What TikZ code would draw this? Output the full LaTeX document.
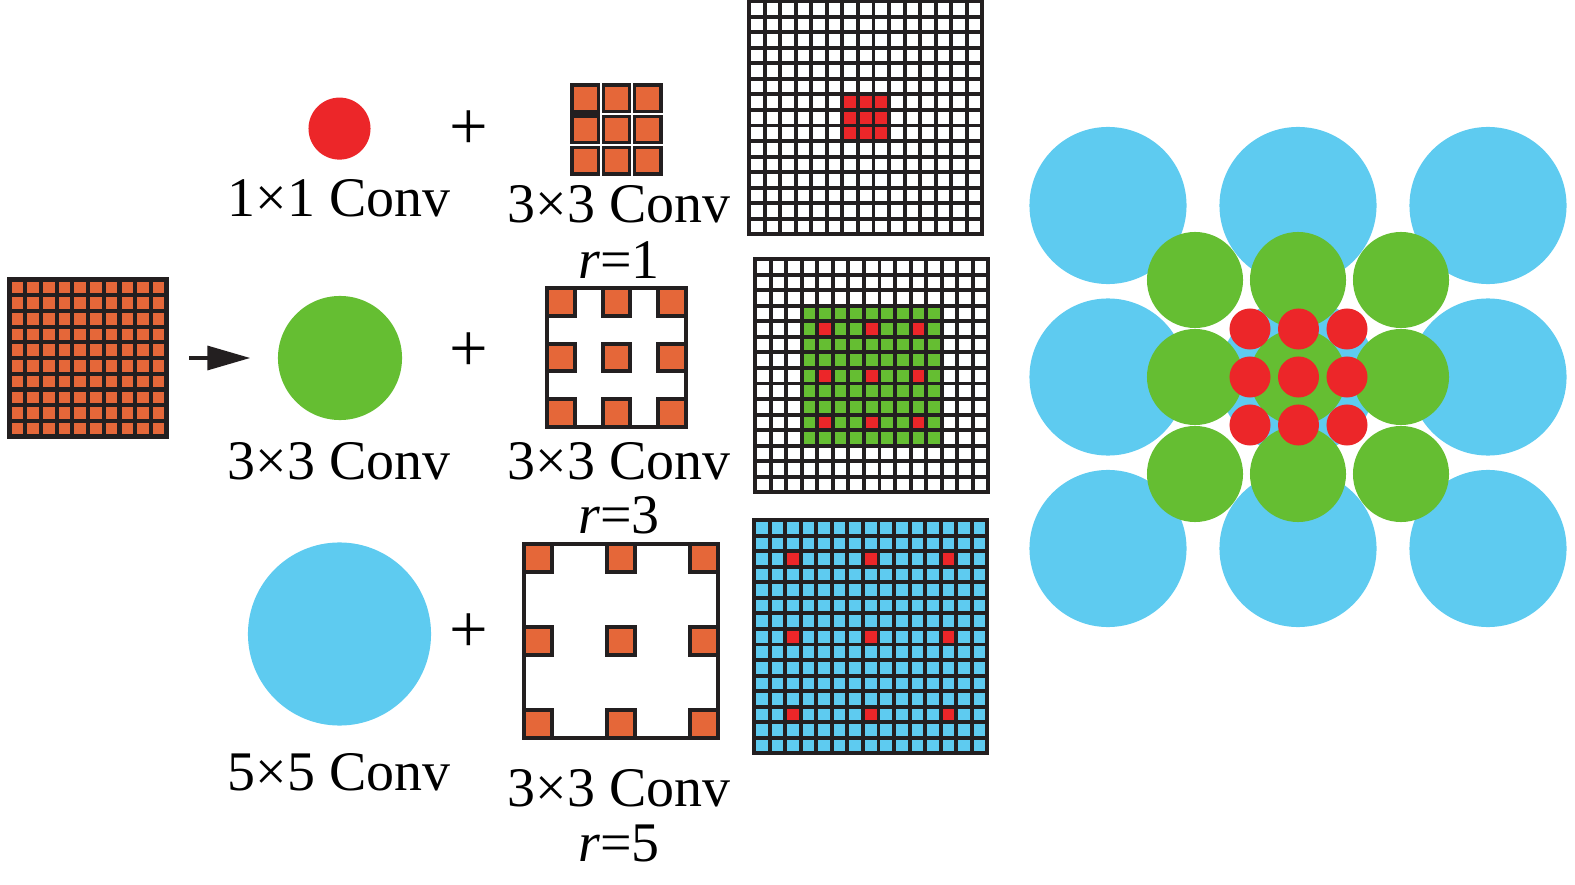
\documentclass[tikz,border=0pt]{standalone}
\usepackage{fontspec}
\setmainfont{Liberation Serif}
\usetikzlibrary{arrows.meta,positioning}
\definecolor{KernOrange}{RGB}{229,103,57}
\definecolor{HitRed}{RGB}{236,38,41}
\definecolor{FieldGreen}{RGB}{101,190,50}
\definecolor{FieldBlue}{RGB}{94,203,240}
\definecolor{LineDark}{RGB}{35,31,32}

\begin{document}
\begin{tikzpicture}[
    x=0.01cm, y=-0.01cm,
    lbl/.style={font=\fontsize{15.9}{19}\selectfont, anchor=base, inner sep=0pt},
    plussign/.style={font=\fontsize{19.5}{23}\selectfont, inner sep=0pt},
    disc/.style={circle, inner sep=0pt, draw=none},
    gridline/.style={draw=LineDark, line width=1.12pt},
    kernline/.style={draw=LineDark, line width=1.15pt},
    flow/.style={draw=LineDark, line width=1pt, -{Triangle[length=12.2pt, width=6.8pt]}},
  ]
  \useasboundingbox (0,0) rectangle (1575,885);

  % input feature map
  \begin{scope}[shift={(9.5,279.5)}, x=0.157cm, y=-0.157cm]
    \fill[KernOrange] (0,0) rectangle (10,10);
    \foreach \k in {1,...,9} {
      \draw[gridline, line width=1.2pt] (\k,0) -- (\k,10);
      \draw[gridline, line width=1.2pt] (0,\k) -- (10,\k);
    }
    \draw[gridline, line width=1.2pt] (0,0) rectangle (10,10);
  \end{scope}
  \node[inner sep=0pt, minimum size=1.57cm] (inp) at (88,358) {};

  % kernels (left column)
  \node[disc, fill=HitRed, minimum size=0.62cm] (c1) at (339.5,128.6) {};
  \node[disc, fill=FieldGreen, minimum size=1.24cm] (c3) at (340,358) {};
  \node[disc, fill=FieldBlue, minimum size=1.83cm] (c5) at (339.5,634) {};
  \node[lbl] (c1lbl) at (339,217) {1×1 Conv};
  \node[lbl] (c3lbl) at (339,479) {3×3 Conv};
  \node[lbl] (c5lbl) at (339,790) {5×5 Conv};

  \draw[flow] ([xshift=0.22cm]inp.east) -- ([xshift=-0.27cm]c3.west);

  \node[plussign] (p1) at (469,130) {+};
  \node[plussign] (p3) at (469,352) {+};
  \node[plussign] (p5) at (469,633) {+};

  % dilated 3x3, r=1
  \begin{scope}[shift={(570,83)}, x=0.31cm, y=-0.31cm]
    \fill[LineDark] (0,0) rectangle (3,3);
    \foreach \i in {0,1,2}
      \foreach \j in {0,1,2}
        \fill[KernOrange] (\i+0.12,\j+0.12) rectangle (\i+0.88,\j+0.88);
    \draw[white, line width=0.45pt] (1,0) -- (1,3) (2,0) -- (2,3)
      (1,1) -- (3,1) (0,2) -- (3,2);
  \end{scope}
  \node[lbl] (k1lbl) at (619,223) {3×3 Conv};
  \node[lbl] (k1r) at (619,278) {\textit{r}=1};

  % dilated 3x3, r=3
  \begin{scope}[shift={(547,288)}, x=0.278cm, y=-0.278cm]
    \fill[white] (0,0) rectangle (5,5);
    \foreach \i in {0,2,4}
      \foreach \j in {0,2,4}
        \filldraw[kernline, fill=KernOrange] (\i,\j) rectangle ++(1,1);
    \draw[kernline] (0,0) rectangle (5,5);
  \end{scope}
  \node[lbl] (k3lbl) at (619,479) {3×3 Conv};
  \node[lbl] (k3r) at (619,533) {\textit{r}=3};

  % dilated 3x3, r=5
  \begin{scope}[shift={(524,544)}, x=0.277cm, y=-0.277cm]
    \fill[white] (0,0) rectangle (7,7);
    \foreach \i in {0,3,6}
      \foreach \j in {0,3,6}
        \filldraw[kernline, fill=KernOrange] (\i,\j) rectangle ++(1,1);
    \draw[kernline] (0,0) rectangle (7,7);
  \end{scope}
  \node[lbl] (k5lbl) at (619,806) {3×3 Conv};
  \node[lbl] (k5r) at (619,861) {\textit{r}=5};

  % receptive fields
  \begin{scope}[shift={(749,1)}, x=0.1555cm, y=-0.1555cm]
    \fill[white] (0,0) rectangle (15,15);
    \foreach \i in {6,7,8}
      \foreach \j in {6,7,8}
        \fill[HitRed] (\i,\j) rectangle ++(1,1);
    \foreach \k in {1,...,14} {
      \draw[gridline] (\k,0) -- (\k,15);
      \draw[gridline] (0,\k) -- (15,\k);
    }
    \draw[gridline] (0,0) rectangle (15,15);
  \end{scope}

  \begin{scope}[shift={(755,259)}, x=0.1555cm, y=-0.1555cm]
    \fill[white] (0,0) rectangle (15,15);
    \fill[FieldGreen] (3,3) rectangle (12,12);
    \foreach \i in {4,7,10}
      \foreach \j in {4,7,10}
        \fill[HitRed] (\i,\j) rectangle ++(1,1);
    \foreach \k in {1,...,14} {
      \draw[gridline] (\k,0) -- (\k,15);
      \draw[gridline] (0,\k) -- (15,\k);
    }
    \draw[gridline] (0,0) rectangle (15,15);
  \end{scope}

  \begin{scope}[shift={(754,520)}, x=0.1555cm, y=-0.1555cm]
    \fill[FieldBlue] (0,0) rectangle (15,15);
    \foreach \i in {2,7,12}
      \foreach \j in {2,7,12}
        \fill[HitRed] (\i,\j) rectangle ++(1,1);
    \foreach \k in {1,...,14} {
      \draw[gridline] (\k,0) -- (\k,15);
      \draw[gridline] (0,\k) -- (15,\k);
    }
    \draw[gridline] (0,0) rectangle (15,15);
  \end{scope}

  % stacked fields
  \foreach \cx in {1108,1298,1488}
    \foreach \cy in {205.5,377,548.5}
      \fill[FieldBlue] (\cx,\cy) circle[radius=0.785cm];
  \foreach \cx in {1195,1298,1401}
    \foreach \cy in {280,377,474}
      \fill[FieldGreen] (\cx,\cy) circle[radius=0.48cm];
  \foreach \cx in {1250,1298.5,1347}
    \foreach \cy in {329,377,425}
      \fill[HitRed] (\cx,\cy) circle[radius=0.205cm];
\end{tikzpicture}
\end{document}
